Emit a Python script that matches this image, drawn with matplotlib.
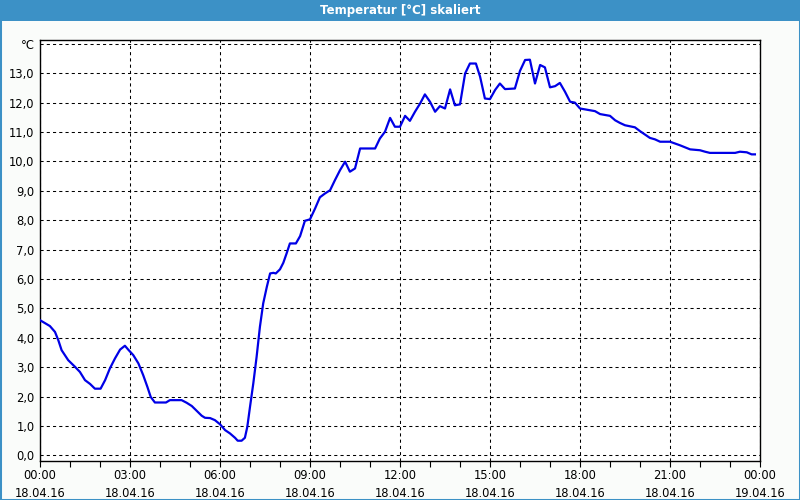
import matplotlib
matplotlib.use("Agg")
import matplotlib.pyplot as plt
from matplotlib.ticker import MultipleLocator, FixedLocator

# hours since 18.04.16 00:00
hours = [0.0, 0.33, 0.5, 0.61, 0.72, 0.94, 1.17, 1.33, 1.5, 1.67, 1.83, 2.02, 2.17, 2.33, 2.5,
         2.67, 2.83, 2.94, 3.11, 3.28, 3.44, 3.58, 3.69, 3.83, 4.2, 4.33, 4.72, 4.89, 5.06,
         5.22, 5.39, 5.5, 5.67, 5.83, 6.0, 6.17, 6.33, 6.5, 6.59, 6.72, 6.83, 6.91, 7.0,
         7.11, 7.22, 7.33, 7.44, 7.56, 7.67, 7.78, 7.86, 8.0, 8.11, 8.22, 8.33, 8.53, 8.67,
         8.83, 9.0, 9.17, 9.33, 9.5, 9.67, 9.83, 10.0, 10.17, 10.33, 10.5, 10.67, 11.17,
         11.33, 11.5, 11.67, 11.83, 12.0, 12.17, 12.33, 12.5, 12.67, 12.83, 13.0, 13.17,
         13.33, 13.5, 13.67, 13.83, 14.0, 14.17, 14.33, 14.53, 14.67, 14.83, 15.0, 15.17,
         15.33, 15.5, 15.83, 16.0, 16.17, 16.33, 16.5, 16.67, 16.83, 17.0, 17.17, 17.33,
         17.5, 17.67, 17.83, 18.0, 18.33, 18.5, 18.67, 19.0, 19.17, 19.33, 19.5, 19.83,
         20.0, 20.17, 20.33, 20.5, 20.67, 21.0, 21.17, 21.33, 21.5, 21.67, 22.0, 22.17,
         22.33, 23.17, 23.33, 23.56, 23.72, 23.83]
temperature = [4.60, 4.40, 4.20, 3.92, 3.58, 3.24, 3.01, 2.84, 2.56, 2.43, 2.27, 2.27, 2.56,
               2.96, 3.30, 3.60, 3.73, 3.60, 3.41, 3.13, 2.73, 2.33, 1.99, 1.80, 1.80, 1.88,
               1.88, 1.79, 1.68, 1.52, 1.35, 1.28, 1.27, 1.20, 1.06, 0.86, 0.75, 0.60, 0.50,
               0.50, 0.60, 0.97, 1.65, 2.45, 3.35, 4.37, 5.17, 5.73, 6.19, 6.21, 6.19, 6.33,
               6.55, 6.87, 7.21, 7.21, 7.46, 7.98, 8.03, 8.40, 8.78, 8.91, 9.02, 9.36, 9.70,
               9.99, 9.65, 9.76, 10.44, 10.44, 10.78, 11.01, 11.48, 11.18, 11.18, 11.55,
               11.38, 11.69, 11.97, 12.28, 12.03, 11.69, 11.88, 11.80, 12.45, 11.91, 11.94,
               12.99, 13.33, 13.33, 12.88, 12.14, 12.12, 12.43, 12.65, 12.46, 12.48, 13.08,
               13.45, 13.46, 12.65, 13.28, 13.20, 12.52, 12.56, 12.67, 12.37, 12.03, 12.0,
               11.80, 11.74, 11.71, 11.61, 11.55, 11.40, 11.31, 11.23, 11.16, 11.03, 10.91,
               10.80, 10.75, 10.67, 10.67, 10.61, 10.55, 10.48, 10.41, 10.38, 10.33, 10.29,
               10.29, 10.33, 10.31, 10.24, 10.24]

x_tick_labels = ["00:00\n18.04.16", "03:00\n18.04.16", "06:00\n18.04.16", "09:00\n18.04.16",
                 "12:00\n18.04.16", "15:00\n18.04.16", "18:00\n18.04.16", "21:00\n18.04.16",
                 "00:00\n19.04.16"]
y_tick_labels = ["0,0", "1,0", "2,0", "3,0", "4,0", "5,0", "6,0", "7,0", "8,0", "9,0",
                 "10,0", "11,0", "12,0", "13,0", "°C"]
title = "Temperatur [°C] skaliert"

BLUE_BAR = "#3C91C6"
BG = "#FAFCFA"

fig = plt.figure(figsize=(8, 5), dpi=100, facecolor=BG)
# window border
fig.patches.append(plt.Rectangle((0, 0), 1, 1, transform=fig.transFigure, fill=False,
                                 edgecolor=BLUE_BAR, linewidth=2.2, zorder=0))
# title bar
fig.patches.append(plt.Rectangle((0, 1 - 21 / 500), 1, 21 / 500, transform=fig.transFigure,
                                 facecolor=BLUE_BAR, edgecolor="none", zorder=1))
fig.text(0.5, 1 - 10.5 / 500, title, color="white", fontsize=8.5, fontweight="bold",
         ha="center", va="center", family="DejaVu Sans")

ax = fig.add_axes([40 / 800, 1 - 461 / 500, 720 / 800, 421 / 500])
ax.set_facecolor("white")
ax.plot(hours, temperature, color="#0000E6", linewidth=1.6, zorder=3)

ax.set_xlim(0, 24)
ax.set_ylim(-0.19, 14.13)

ax.xaxis.set_major_locator(FixedLocator(list(range(0, 25, 3))))
ax.set_xticklabels(x_tick_labels, fontsize=8.3, linespacing=1.45)
ax.xaxis.set_minor_locator(MultipleLocator(1))
ax.tick_params(axis="x", which="both", direction="out", length=4, width=0.8, pad=2,
               color="black")

ax.yaxis.set_major_locator(FixedLocator(list(range(0, 15))))
ax.set_yticklabels(y_tick_labels, fontsize=8.3)
ax.tick_params(axis="y", which="both", length=0, pad=4)

ax.grid(True, which="major", color="black", linestyle=(0, (3, 3)), linewidth=0.75)

for s in ax.spines.values():
    s.set_color("black")
    s.set_linewidth(1.0)

fig.savefig("out.png", dpi=100, facecolor=BG)
